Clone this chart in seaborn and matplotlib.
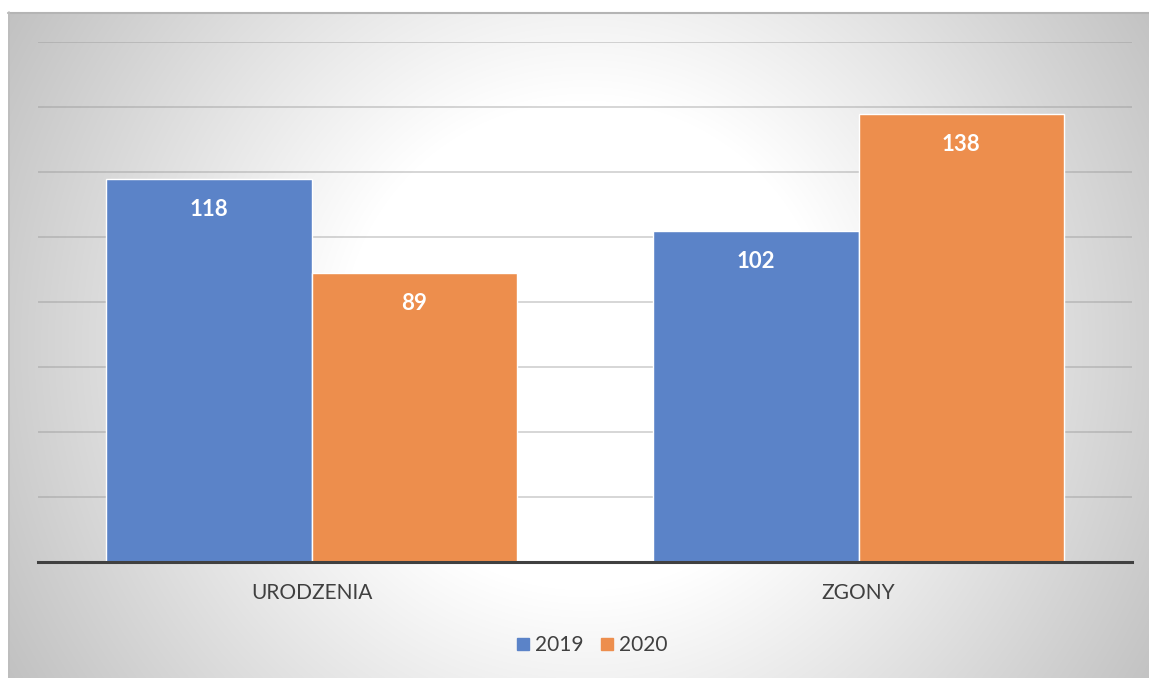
import numpy as np
import pandas as pd
import matplotlib
matplotlib.use("Agg")
import matplotlib.pyplot as plt
import seaborn as sns
from matplotlib.lines import Line2D

categories = ["URODZENIA", "ZGONY"]
years = ["2019", "2020"]
values_2019 = [118, 102]
values_2020 = [89, 138]

df = pd.DataFrame({
    "kategoria": categories * 2,
    "rok": [years[0]] * 2 + [years[1]] * 2,
    "wartosc": values_2019 + values_2020,
})

sns.set_theme(style="white")
plt.rcParams["font.family"] = ["Lato", "DejaVu Sans"]

W, H = 1149, 678
fig = plt.figure(figsize=(W / 100, H / 100), dpi=100)

# radial gradient background
bg = fig.add_axes([0, 0, 1, 1])
yy, xx = np.mgrid[0:H, 0:W]
d = np.hypot(xx - 585, yy - 345)
c = np.clip(291 - 0.147 * d, 0, 255) / 255.0
img = np.dstack([c, c, c])
img[:12, :, :] = 1.0
img[:, :8, :] = 1.0
bg.imshow(img, extent=[0, W, H, 0], aspect="auto", interpolation="bilinear")
bg.plot([8, W], [12.5, 12.5], color="#b4b4b4", lw=1.5)
bg.plot([8.5, 8.5], [12, H], color="#bdbdbd", lw=1.2)
bg.set_xlim(0, W)
bg.set_ylim(H, 0)
bg.axis("off")

ax = fig.add_axes([38 / W, 1 - 562 / H, (1132 - 38) / W, (562 - 42) / H])
ax.patch.set_alpha(0)
colors = {"2019": "#5B83C8", "2020": "#ED8E4D"}
sns.barplot(data=df, x="kategoria", y="wartosc", hue="rok", order=categories,
            hue_order=years, palette=colors, width=0.75, ax=ax,
            edgecolor="white", linewidth=1, saturation=1, legend=False)

ax.set_ylim(0, 160)
ax.set_yticks(np.arange(0, 161, 20))
ax.yaxis.grid(True, color="#909090", alpha=0.4, lw=1.3)
ax.set_axisbelow(True)
ax.tick_params(axis="y", left=False, labelleft=False)
ax.tick_params(axis="x", bottom=False, pad=9, labelsize=15, labelcolor="#404040")
for s in ["top", "right", "left"]:
    ax.spines[s].set_visible(False)
ax.spines["bottom"].set_color("#404040")
ax.spines["bottom"].set_linewidth(2.2)
ax.set_xlabel("")
ax.set_ylabel("")

for cont in ax.containers:
    ax.bar_label(cont, padding=-30, color="white", fontweight="bold", fontsize=16)

handles = [Line2D([0], [0], marker="s", linestyle="", markersize=9,
                  markerfacecolor=colors[y], markeredgecolor=colors[y]) for y in years]
fig.legend(handles, years, loc="center", bbox_to_anchor=(590 / W, 1 - 645 / H),
           ncol=2, frameon=False, fontsize=15, labelcolor="#404040",
           handletextpad=0.1, columnspacing=0.6, handlelength=1.0)

fig.savefig("out.png", dpi=100)
